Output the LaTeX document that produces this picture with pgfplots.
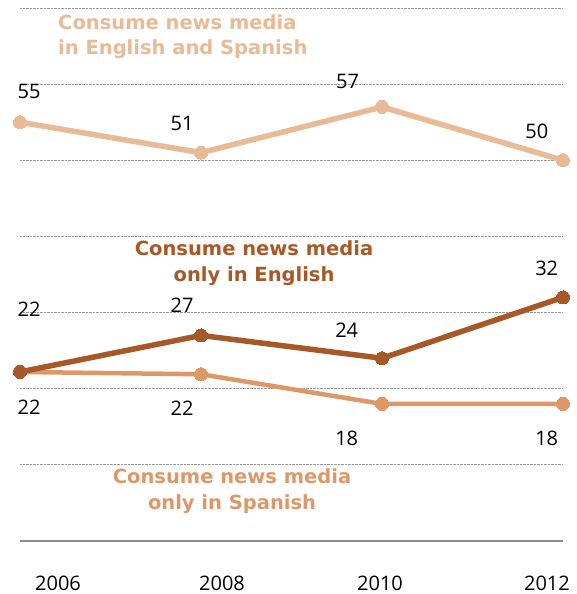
\documentclass[border=0pt]{standalone}
\usepackage{fontspec}
\setmainfont{Open Sans}
\newfontfamily\titlefont{DejaVu Sans}
\usepackage{pgfplots}
\pgfplotsset{compat=1.18}
\definecolor{cBoth}{RGB}{232,186,150}
\definecolor{cEng}{RGB}{166,88,38}
\definecolor{cSpa}{RGB}{222,152,104}
\tikzset{num/.style={font=\fontsize{20}{24}\selectfont, text=black}}
\begin{document}
\begin{tikzpicture}[x=1pt,y=1pt]
\begin{axis}[
  at={(20pt,53pt)}, anchor=south west,
  scale only axis, width=543pt, height=533pt,
  xmin=2006, xmax=2012, ymin=0, ymax=70,
  axis x line=bottom, axis y line=left,
  x axis line style={draw=gray!90, line width=1.5pt, -},
  y axis line style={draw=none},
  ytick={10,20,30,40,50,60,70}, yticklabels={},
  ymajorgrids, grid style={densely dotted, gray!80, line width=0.9pt},
  xtick={2006.42,2008.232,2009.978,2011.823},
  xticklabels={2006,2008,2010,2012},
  major tick length=0pt,
  xticklabel style={anchor=center, yshift=-42pt, font=\fontsize{20}{24}\selectfont, text=black},
  clip=false,
]
\addplot[cBoth, line width=5.5pt, mark=*, mark size=6.5pt, mark options={line width=0pt}] coordinates {(2006,55) (2008,51) (2010,57) (2012,50)};
\addplot[cSpa, line width=4.5pt, mark=*, mark size=6.5pt, mark options={line width=0pt}] coordinates {(2006,22.2) (2008,21.9) (2010,18) (2012,18)};
\addplot[cEng, line width=5.5pt, mark=*, mark size=6.5pt, mark options={line width=0pt}] coordinates {(2006,22.2) (2008,27) (2010,24) (2012,32)};

\node[num] at (axis cs:2006.10,59.1) {55};
\node[num] at (axis cs:2007.79,54.9) {51};
\node[num] at (axis cs:2009.62,60.4) {57};
\node[num] at (axis cs:2011.71,53.85) {50};
\node[num] at (axis cs:2006.10,30.47) {22};
\node[num] at (axis cs:2007.79,31.0) {27};
\node[num] at (axis cs:2009.61,27.7) {24};
\node[num] at (axis cs:2011.82,35.86) {32};
\node[num] at (axis cs:2006.10,17.6) {22};
\node[num] at (axis cs:2007.79,17.47) {22};
\node[num] at (axis cs:2009.61,13.53) {18};
\node[num] at (axis cs:2011.82,13.53) {18};

\node[anchor=west, align=left, text=cBoth, inner sep=0pt, font=\titlefont\bfseries\fontsize{19.5}{25.5}\selectfont] at (axis cs:2006.42,66.26) {Consume news media\\in English and Spanish};
\node[align=center, text=cEng, inner sep=0pt, font=\titlefont\bfseries\fontsize{19.5}{25.5}\selectfont] at (axis cs:2008.586,36.51) {Consume news media\\only in English};
\node[align=center, text=cSpa, inner sep=0pt, font=\titlefont\bfseries\fontsize{19.5}{25.5}\selectfont] at (axis cs:2008.343,6.57) {Consume news media\\only in Spanish};
\end{axis}
\pgfresetboundingbox
\path (0pt,0pt) rectangle (576pt,594pt);
\end{tikzpicture}
\end{document}
